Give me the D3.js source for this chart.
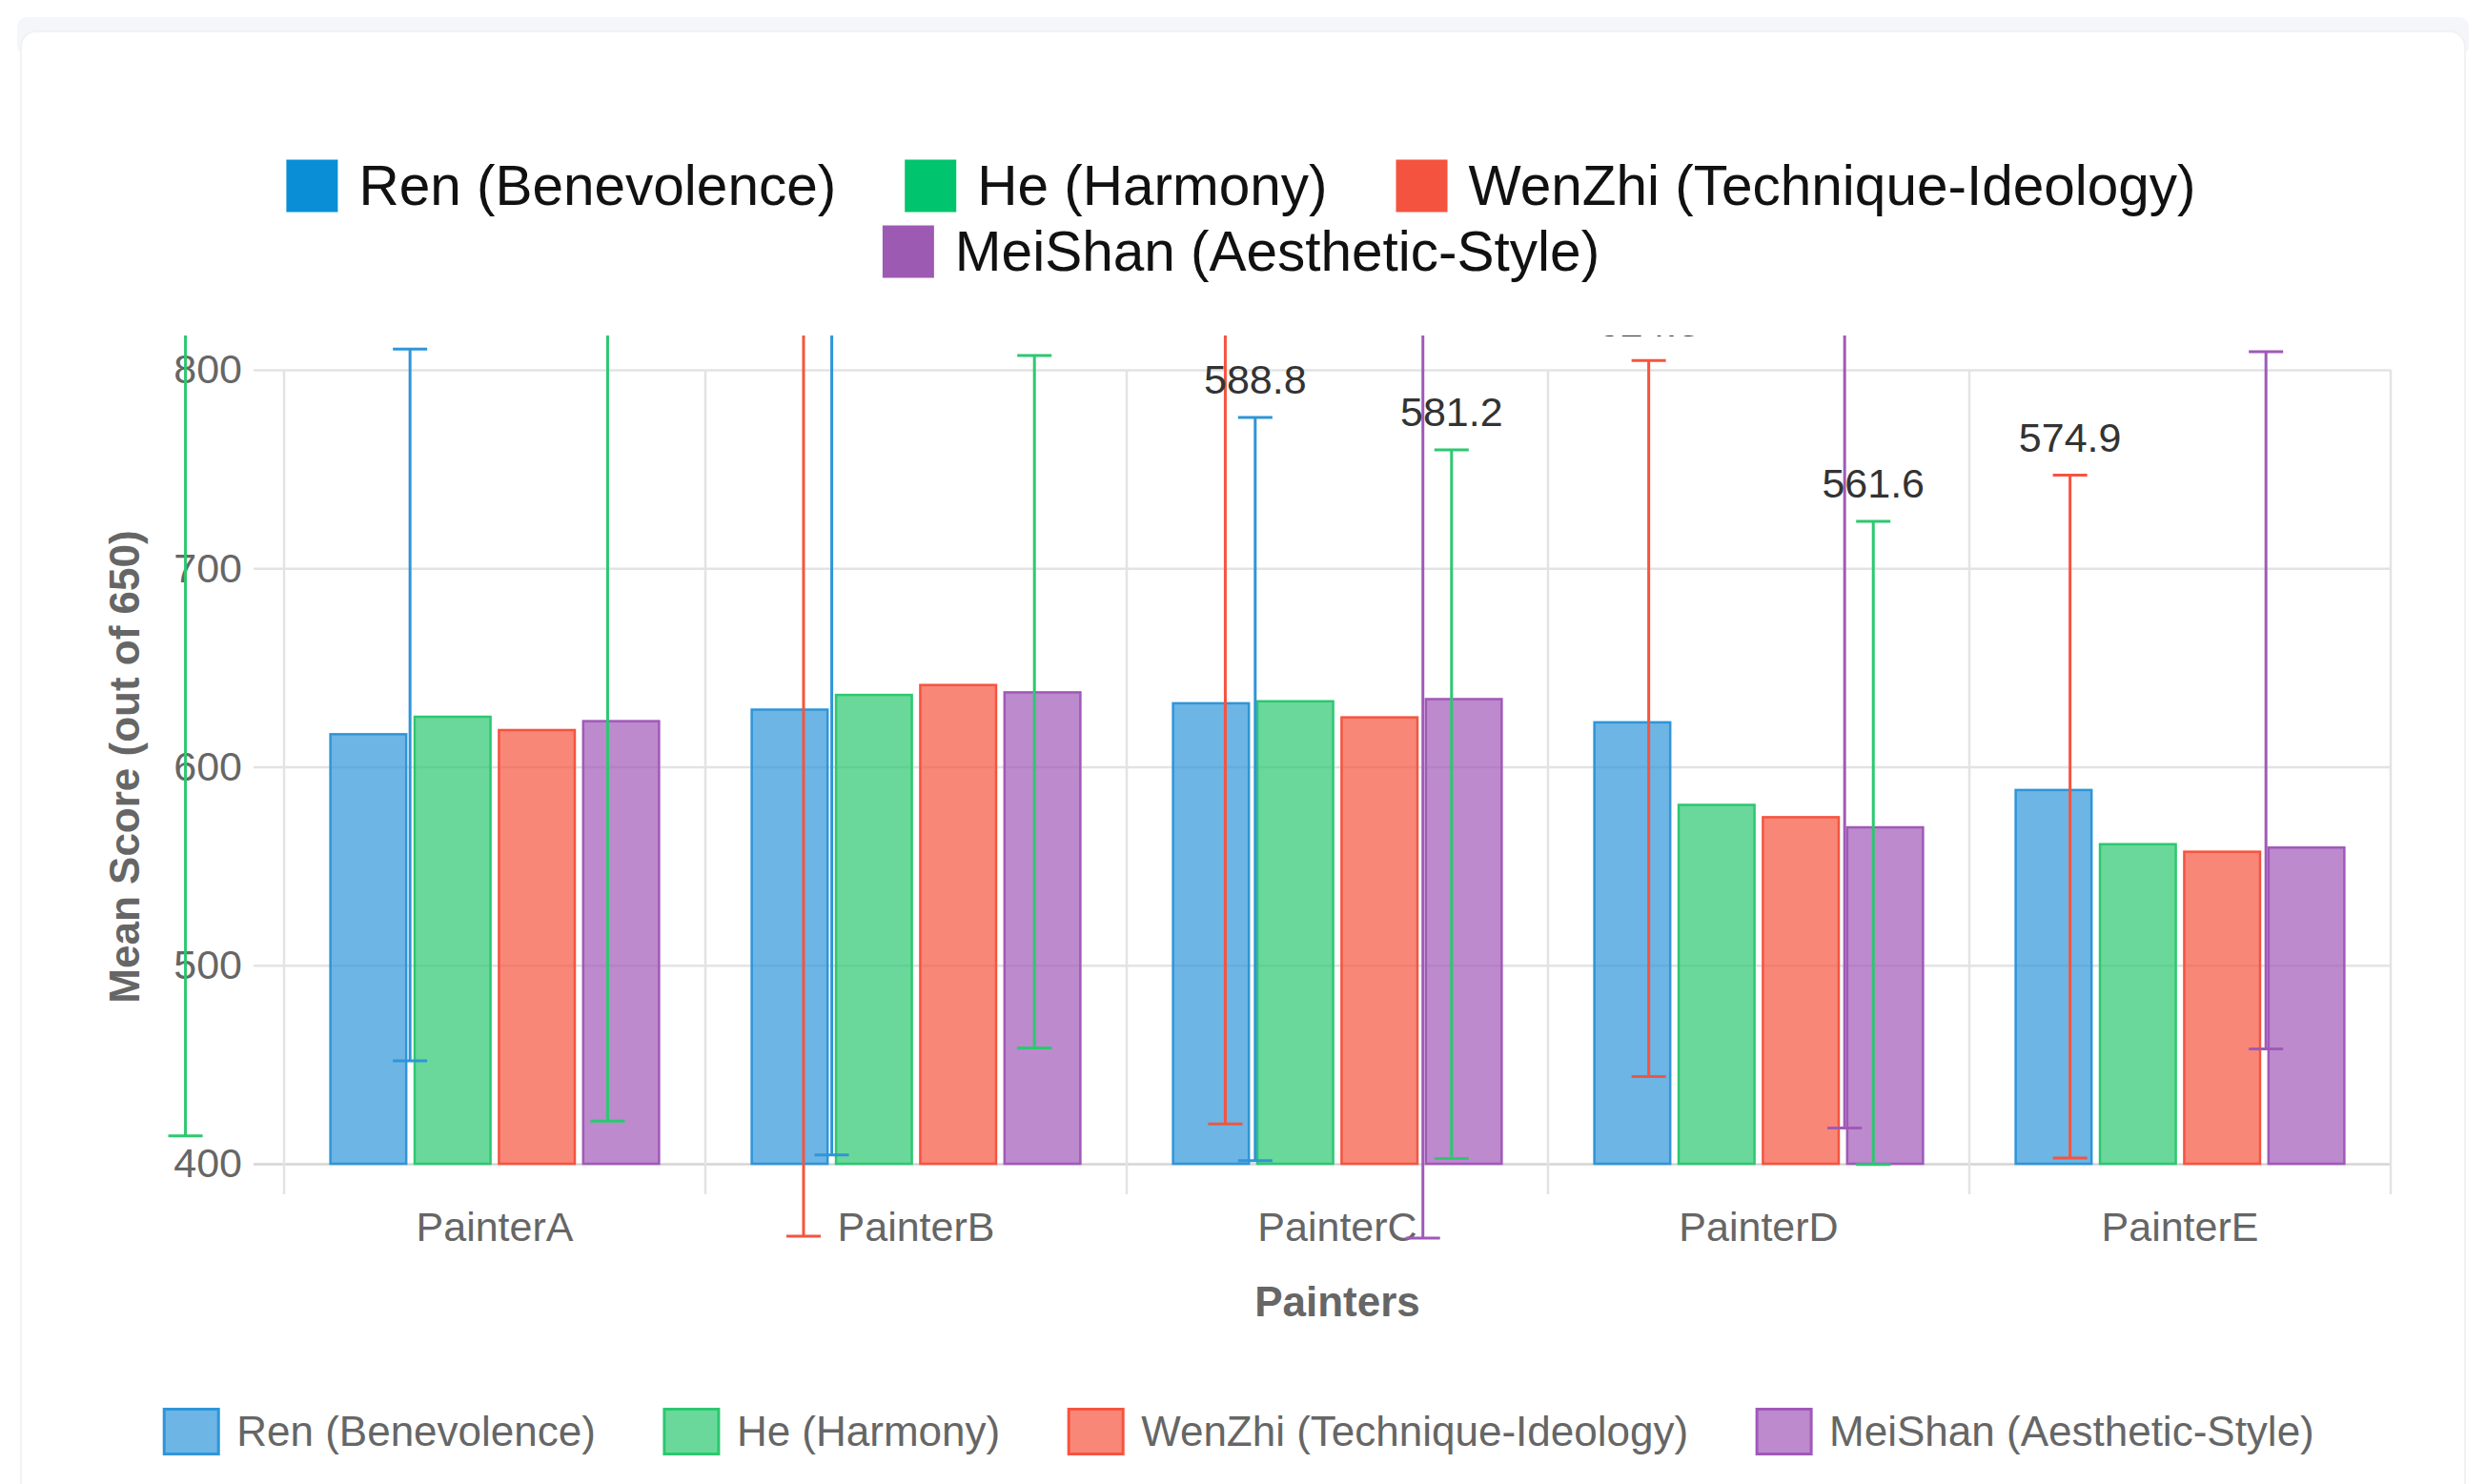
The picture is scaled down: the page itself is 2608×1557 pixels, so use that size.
<!DOCTYPE html>
<html>
<head>
<meta charset="utf-8">
<script src="https://cdn.jsdelivr.net/npm/d3@7/dist/d3.min.js"></script>
<style>
  html, body { margin: 0; padding: 0; background: #fff; }
  svg { display: block; font-family: "Liberation Sans", Arial, Helvetica, sans-serif; }
</style>
</head>
<body>
<svg id="chart"></svg>
<script>
/* Grouped bars with error whiskers, painter scores by dimension. */
(function () {
  var painters = ["PainterA", "PainterB", "PainterC", "PainterD", "PainterE"];
  var seriesNames = [
    "Ren (Benevolence)",
    "He (Harmony)",
    "WenZhi (Technique-Ideology)",
    "MeiShan (Aesthetic-Style)"
  ];
  var yTicks = [400, 500, 600, 700, 800];

  // bar means per painter
  var ren = [616.4, 628.8, 632.0, 622.4, 588.3];
  var he = [625.2, 636.2, 633.0, 580.8, 561.0];
  var wenZhi = [618.5, 641.2, 624.9, 574.6, 557.2];
  var meiShan = [623.0, 637.5, 634.1, 569.5, 559.3];

  // whiskers as they were drawn: "at" is the position in painter units (0 = left edge of PainterA)
  var renErr = [
    { at: 0.299, mean: 631.2, sd: 179.3 },
    { at: 1.300, mean: 616.4, sd: 211.9 },
    { at: 2.305, mean: 588.8, sd: 187.2 }
  ];
  var heErr = [
    { at: -0.234, mean: 625.0, sd: 211.0 },
    { at: 0.768, mean: 636.0, sd: 214.5 },
    { at: 1.781, mean: 632.8, sd: 174.4 },
    { at: 2.771, mean: 581.2, sd: 178.5 },
    { at: 3.772, mean: 561.6, sd: 162.0 }
  ];
  var wenZhiErr = [
    { at: 1.233, mean: 618.5, sd: 255.0 },
    { at: 2.234, mean: 641.2, sd: 221.2 },
    { at: 3.239, mean: 624.3, sd: 180.4 },
    { at: 4.239, mean: 574.9, sd: 172.0 }
  ];
  var meiShanErr = [
    { at: 2.703, mean: 623.0, sd: 260.5 },
    { at: 3.704, mean: 637.5, sd: 219.5 },
    { at: 4.704, mean: 633.5, sd: 175.6 }
  ];

  var seriesValues = [ren, he, wenZhi, meiShan];
  var seriesErr = [renErr, heErr, wenZhiErr, meiShanErr];
  var baseColors = ["#2f95d8", "#2cc870", "#f5543f", "#a059b8"];
  var legendColors = ["#0a8fd6", "#00c46e", "#f4533f", "#9d5ab3"];

  var W = 2608, H = 1557;
  var m = { left: 298, right: 2508, top: 388, bottom: 1221 };

  var svg = d3.select("#chart").attr("width", W).attr("height", H)
    .attr("viewBox", [0, 0, W, H]);

  // card background
  svg.append("rect").attr("x", 18).attr("y", 18).attr("width", W - 36).attr("height", 40)
    .attr("rx", 10).attr("fill", "#f4f6f9");
  svg.append("rect").attr("x", 22).attr("y", 33).attr("width", W - 44).attr("height", H)
    .attr("rx", 16).attr("fill", "#ffffff").attr("stroke", "#f1f2f5").attr("stroke-width", 2);

  var x0 = d3.scaleBand().domain(painters).range([m.left, m.right]);
  var bw = x0.bandwidth();
  var x1 = d3.scaleBand().domain(seriesNames).range([bw * 0.1, bw * 0.9])
    .paddingInner(0.1).paddingOuter(0.05);
  var xAt = d3.scaleLinear().domain([0, painters.length]).range([m.left, m.right]);
  var y = d3.scaleLinear().domain([400, 800]).range([m.bottom, m.top]);

  // horizontal grid + y tick labels
  var yAxis = svg.append("g")
    .attr("transform", "translate(266,0)")
    .call(d3.axisLeft(y).tickValues(yTicks).tickSize(-(m.right - 266)).tickPadding(12));
  yAxis.select(".domain").remove();
  yAxis.selectAll(".tick line")
    .attr("stroke", function (d) { return d === 400 ? "#d4d4d4" : "#e3e3e3"; })
    .attr("stroke-width", 2.5);
  yAxis.selectAll(".tick text")
    .attr("fill", "#666").style("font-size", "43px");

  // vertical grid at painter boundaries
  var bounds = painters.map(function (p) { return x0(p); }).concat([m.right]);
  svg.append("g").selectAll("line").data(bounds).join("line")
    .attr("x1", function (d) { return d; }).attr("x2", function (d) { return d; })
    .attr("y1", m.top).attr("y2", m.bottom + 32)
    .attr("stroke", "#e3e3e3").attr("stroke-width", 2.5);

  // x axis labels
  var xAxis = svg.append("g")
    .attr("transform", "translate(0," + m.bottom + ")")
    .call(d3.axisBottom(x0).tickSize(0).tickPadding(50));
  xAxis.select(".domain").remove();
  xAxis.selectAll(".tick text").attr("fill", "#666").style("font-size", "43px");

  // axis titles
  svg.append("text")
    .attr("x", (m.left + m.right) / 2).attr("y", 1381)
    .attr("text-anchor", "middle").attr("fill", "#666")
    .style("font-size", "44px").style("font-weight", "bold")
    .text("Painters");
  svg.append("text")
    .attr("transform", "translate(146," + (m.top + m.bottom) / 2 + ") rotate(-90)")
    .attr("text-anchor", "middle").attr("fill", "#666")
    .style("font-size", "44px").style("font-weight", "bold")
    .text("Mean Score (out of 650)");

  // bars
  var groups = svg.append("g").selectAll("g").data(painters).join("g")
    .attr("transform", function (p) { return "translate(" + x0(p) + ",0)"; });
  groups.selectAll("rect")
    .data(function (p, i) {
      return seriesNames.map(function (s, k) { return { k: k, v: seriesValues[k][i] }; });
    })
    .join("rect")
    .attr("x", function (d) { return x1(seriesNames[d.k]); })
    .attr("width", x1.bandwidth())
    .attr("y", function (d) { return y(d.v); })
    .attr("height", function (d) { return y(400) - y(d.v); })
    .attr("fill", function (d) { return baseColors[d.k]; })
    .attr("fill-opacity", 0.7)
    .attr("stroke", function (d) { return baseColors[d.k]; })
    .attr("stroke-width", 2.5);

  // whiskers + mean labels, clipped just above the top grid line
  var clipTop = m.top - 36;
  svg.append("clipPath").attr("id", "errClip")
    .append("rect").attr("x", 0).attr("y", clipTop).attr("width", W).attr("height", H);
  var errLayer = svg.append("g").attr("clip-path", "url(#errClip)");
  var errData = [];
  seriesErr.forEach(function (list, k) {
    list.forEach(function (e) { errData.push({ k: k, at: e.at, mean: e.mean, sd: e.sd }); });
  });
  var capW = 36;
  var eg = errLayer.selectAll("g").data(errData).join("g")
    .attr("stroke", function (d) { return baseColors[d.k]; })
    .attr("stroke-width", 3);
  eg.append("line")
    .attr("x1", function (d) { return xAt(d.at); }).attr("x2", function (d) { return xAt(d.at); })
    .attr("y1", function (d) { return y(d.mean - d.sd); })
    .attr("y2", function (d) { return y(d.mean + d.sd); });
  eg.append("line")
    .attr("x1", function (d) { return xAt(d.at) - capW / 2; })
    .attr("x2", function (d) { return xAt(d.at) + capW / 2; })
    .attr("y1", function (d) { return y(d.mean + d.sd); })
    .attr("y2", function (d) { return y(d.mean + d.sd); });
  eg.append("line")
    .attr("x1", function (d) { return xAt(d.at) - capW / 2; })
    .attr("x2", function (d) { return xAt(d.at) + capW / 2; })
    .attr("y1", function (d) { return y(d.mean - d.sd); })
    .attr("y2", function (d) { return y(d.mean - d.sd); });

  // labels whose baseline falls above the clip would be invisible anyway
  var labelled = errData.filter(function (d) { return y(d.mean + d.sd) - 25 > clipTop; });
  errLayer.selectAll("text").data(labelled).join("text")
    .attr("x", function (d) { return xAt(d.at); })
    .attr("y", function (d) { return y(d.mean + d.sd) - 25; })
    .attr("text-anchor", "middle").attr("fill", "#333")
    .style("font-size", "43px")
    .text(function (d) { return d.mean.toFixed(1); });

  // legend rows: items wrap and each row is centred on cx
  function legendRows(gSel, items, opts) {
    var nodes = items.map(function (name, k) {
      var it = gSel.append("g");
      it.append("rect").attr("width", opts.box[0]).attr("height", opts.box[1])
        .attr("y", -opts.box[1] / 2)
        .attr("fill", opts.fill(k)).attr("fill-opacity", opts.fillOpacity)
        .attr("stroke", opts.stroke ? opts.stroke(k) : "none").attr("stroke-width", 3);
      var t = it.append("text").attr("x", opts.box[0] + opts.gap).attr("dy", "0.35em")
        .attr("fill", opts.color).style("font-size", opts.size + "px").text(name);
      return { g: it, w: opts.box[0] + opts.gap + t.node().getComputedTextLength() };
    });
    var rows = [[]], rowW = [0];
    nodes.forEach(function (n) {
      var r = rows.length - 1;
      var add = (rows[r].length ? opts.spacing : 0) + n.w;
      if (rows[r].length && rowW[r] + add > opts.maxW) {
        rows.push([n]); rowW.push(n.w);
      } else {
        rows[r].push(n); rowW[r] += add;
      }
    });
    rows.forEach(function (row, r) {
      var cx = opts.cx - rowW[r] / 2;
      row.forEach(function (n) {
        n.g.attr("transform", "translate(" + cx + "," + (opts.y + r * opts.lineH) + ")");
        cx += n.w + opts.spacing;
      });
    });
  }

  legendRows(svg.append("g"), seriesNames, {
    box: [54, 55], gap: 22, spacing: 72, size: 58.5, color: "#111",
    fill: function (k) { return legendColors[k]; }, fillOpacity: 1,
    maxW: 2200, cx: 1302, y: 195, lineH: 69
  });
  legendRows(svg.append("g"), seriesNames, {
    box: [57, 47], gap: 19, spacing: 72, size: 44, color: "#666",
    fill: function (k) { return baseColors[k]; }, fillOpacity: 0.7,
    stroke: function (k) { return baseColors[k]; },
    maxW: 2500, cx: 1300, y: 1502, lineH: 60
  });
})();
</script>
</body>
</html>
